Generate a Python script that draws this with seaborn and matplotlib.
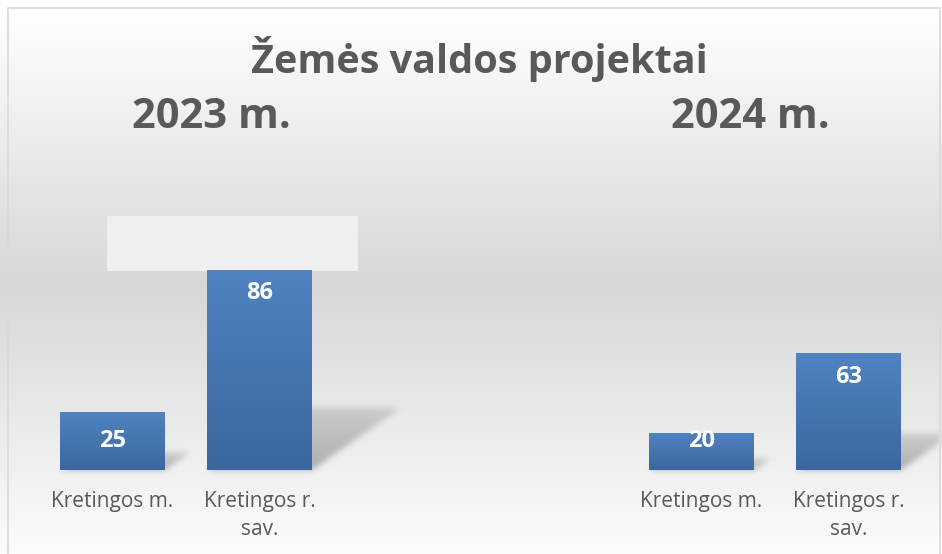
import numpy as np
import pandas as pd
import matplotlib
matplotlib.use("Agg")
import matplotlib.pyplot as plt
import seaborn as sns
from matplotlib.patches import Rectangle

# ---------------- data ----------------
title = "Žemės valdos projektai"
years = ["2023 m.", "2024 m."]
categories = ["Kretingos m.", "Kretingos r.\nsav."]
values_2023 = [25, 86]
values_2024 = [20, 63]

# ---------------- styling ----------------
sns.set_theme(style="white")
plt.rcParams["font.family"] = ["Open Sans", "DejaVu Sans"]

W, H, DPI = 942, 554, 100
fig = plt.figure(figsize=(W / DPI, H / DPI), dpi=DPI)
fig.patch.set_facecolor("white")

TEXT = "#595959"
BAR_TOP = np.array([0x50, 0x83, 0xc0]) / 255
BAR_BOT = np.array([0x3b, 0x67, 0x9f]) / 255

def px_axes(x0, x1, ytop, ybot):
    return [x0 / W, 1 - ybot / H, (x1 - x0) / W, (ybot - ytop) / H]

# axes rectangles in pixels (left,right,top,bottom)
ax1 = fig.add_axes(px_axes(39, 333, 200, 470))
ax2 = fig.add_axes(px_axes(628, 922, 200, 470))
ylims = [270 / 2.32, 270 / 1.86]
label_offsets_px = [[29, 23], [8, 24]]

bg_ax = fig.add_axes([0, 0, 1, 1], zorder=-5)
bg_ax.set_axis_off()

for ax, vals, ymax in zip([ax1, ax2], [values_2023, values_2024], ylims):
    df = pd.DataFrame({"cat": categories, "val": vals})
    sns.barplot(data=df, x="cat", y="val", ax=ax, color=BAR_TOP,
                width=105 / 147, saturation=1, linewidth=0)
    ax.set_xlim(-0.5, 1.5)
    ax.set_ylim(0, ymax)
    ax.patch.set_alpha(0)
    for s in ax.spines.values():
        s.set_visible(False)
    ax.set_yticks([])
    ax.set_xlabel("")
    ax.set_ylabel("")
    ax.tick_params(axis="x", length=0, pad=15, labelsize=15, labelcolor=TEXT)
    for lbl in ax.get_xticklabels():
        lbl.set_linespacing(1.45)
        lbl.set_va("top")

# gradient on bars
grad = np.linspace(0, 1, 256)[:, None]
bar_img = BAR_TOP[None, None, :] * (1 - grad[..., None]) + BAR_BOT[None, None, :] * grad[..., None]
for ax in (ax1, ax2):
    for p in ax.patches:
        p.set_edgecolor("none")
        x, y = p.get_x(), p.get_y()
        w, h = p.get_width(), p.get_height()
        im = ax.imshow(bar_img, extent=[x, x + w, y, y + h], aspect="auto",
                       origin="upper", zorder=p.get_zorder() + 0.1)
        im.set_clip_path(p)
    ax.set_xlim(-0.5, 1.5)

# data labels
for ax, offs in zip([ax1, ax2], label_offsets_px):
    for p, off in zip(ax.patches, offs):
        ax.annotate(f"{int(round(p.get_height()))}",
                    xy=(p.get_x() + p.get_width() / 2, p.get_height()),
                    xytext=(0, -off * 72 / DPI), textcoords="offset points",
                    ha="center", va="center", color="white",
                    fontsize=17, fontweight="bold", zorder=10)

# ---------------- background image (gradient + shadows) ----------------
yy = np.arange(H)[:, None].astype(float)
stops_y = [0, 10, 283, 554]
stops_v = [1.0, 1.0, 0xd7 / 255, 0xfc / 255]
col = np.interp(yy[:, 0], stops_y, stops_v)
bg = np.repeat(col[:, None], W, axis=1)

mask = np.zeros((H, W))
for ax in (ax1, ax2):
    for p in ax.patches:
        (x0d, y0d) = ax.transData.transform((p.get_x(), 0))
        (x1d, y1d) = ax.transData.transform((p.get_x() + p.get_width(), p.get_height()))
        hpx = y1d - y0d
        base = H - y0d
        sh_h = 0.31 * hpx
        dx = 0.44 * hpx
        for r in range(int(base - sh_h), int(base)):
            t = (base - r) / sh_h
            xs = x0d + dx * t
            xe = x1d + dx * t
            a = max(0.0, 1 - 0.55 * t)
            c0, c1 = int(max(xs, 0)), int(min(xe, W))
            mask[r, c0:c1] = np.maximum(mask[r, c0:c1], a)

def box_blur(a, k):
    ker = np.ones(k) / k
    a = np.apply_along_axis(lambda m: np.convolve(m, ker, mode="same"), 0, a)
    a = np.apply_along_axis(lambda m: np.convolve(m, ker, mode="same"), 1, a)
    return a

mask = box_blur(box_blur(mask, 7), 7)
bg = bg * (1 - 0.28 * mask)
rgb = np.dstack([bg, bg, bg])
bg_ax.imshow(rgb, extent=[0, 1, 0, 1], aspect="auto", origin="upper",
             transform=bg_ax.transAxes, interpolation="bilinear")
bg_ax.set_xlim(0, 1)
bg_ax.set_ylim(0, 1)

# light box artefact above the 2023 bars
fig.patches.append(Rectangle((107 / W, 1 - 271 / H), (358 - 107) / W, (271 - 216) / H,
                             transform=fig.transFigure, facecolor="#efefef",
                             edgecolor="none", zorder=-1))
# chart border
fig.patches.append(Rectangle((7.5 / W, -0.01), (939.5 - 7.5) / W, 1 - 8 / H + 0.01,
                             transform=fig.transFigure, facecolor="none",
                             edgecolor="#d9d9d9", linewidth=1.2, zorder=20))

# ---------------- titles ----------------
fig.text(479 / W, 1 - 59 / H, title, ha="center", va="center",
         fontsize=28.5, fontweight="bold", color=TEXT)
for yr, xc in zip(years, [211, 750]):
    fig.text(xc / W, 1 - 117 / H, yr, ha="center", va="center",
             fontsize=30, fontweight="bold", color=TEXT)

fig.savefig("out.png", dpi=DPI, facecolor=fig.get_facecolor())
